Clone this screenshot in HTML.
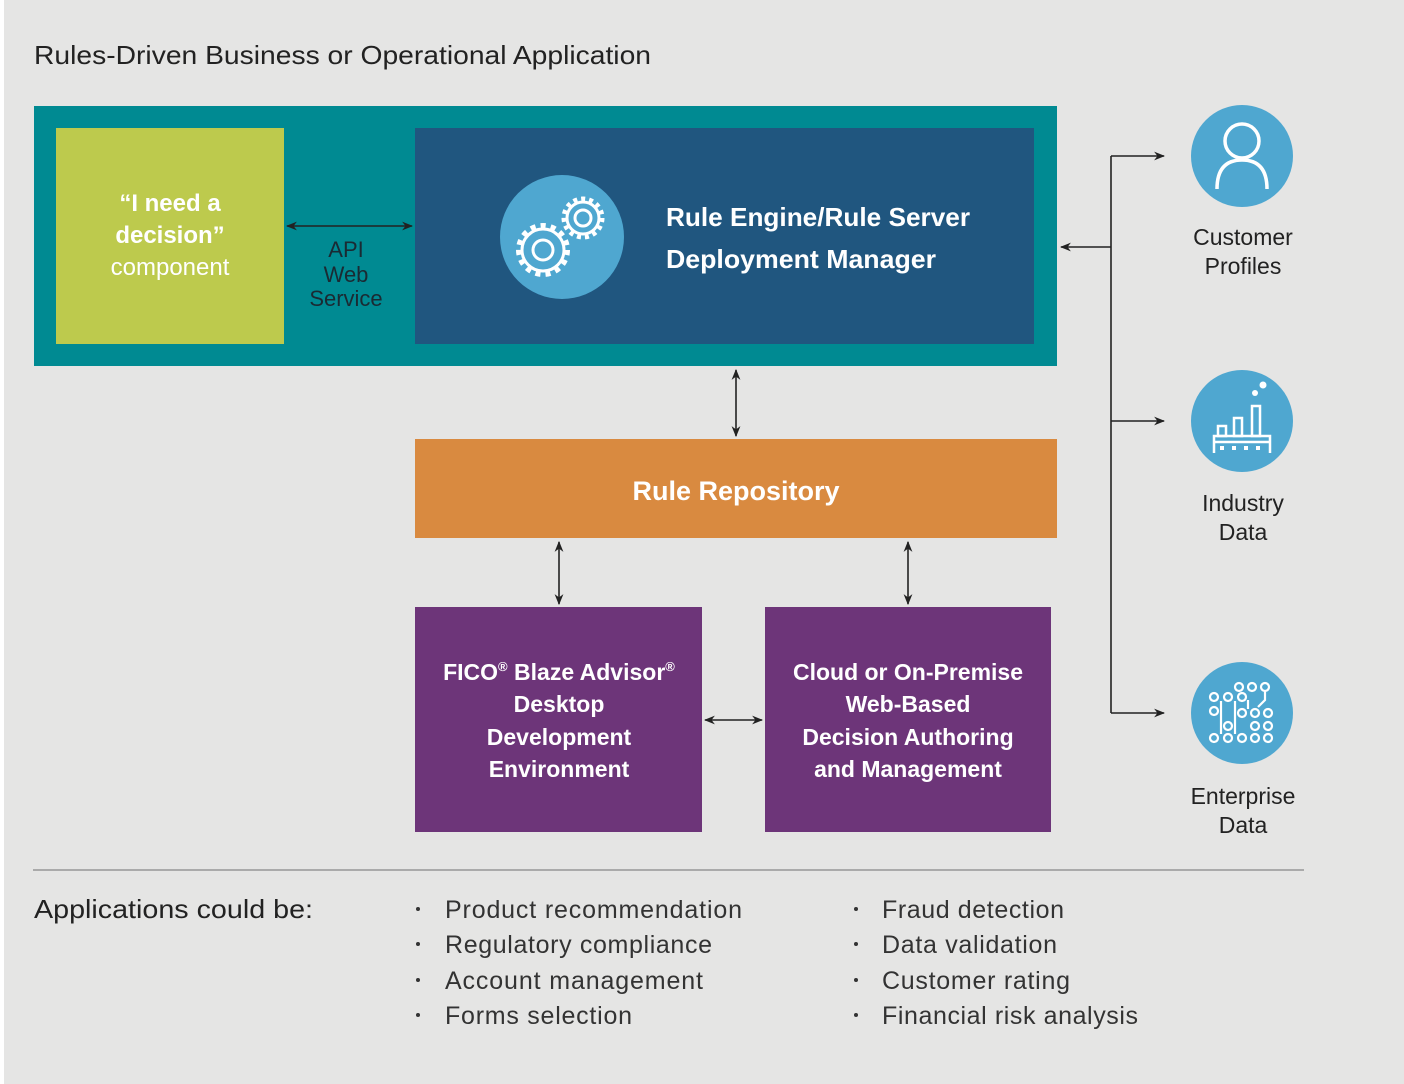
<!DOCTYPE html>
<html><head><meta charset="utf-8"><style>
html,body{margin:0;padding:0;background:#fff;}
svg{display:block;font-family:"Liberation Sans",Arial,sans-serif;}
</style></head><body>
<svg width="1404" height="1084" viewBox="0 0 1404 1084" xmlns="http://www.w3.org/2000/svg">
<defs>
<marker id="a" viewBox="0 0 10 10" refX="9" refY="5" markerWidth="11" markerHeight="11" orient="auto-start-reverse" markerUnits="userSpaceOnUse"><path d="M0,1 L10,5 L0,9 L3,5 z" fill="#222"/></marker>
</defs>
<rect x="4" y="0" width="1400" height="1084" fill="#e5e5e4"/>
<text x="34" y="64" font-size="26" fill="#222" textLength="617" lengthAdjust="spacingAndGlyphs">Rules-Driven Business or Operational Application</text>
<rect x="34" y="106" width="1023" height="260" fill="#008a92"/>
<rect x="56" y="128" width="228" height="216" fill="#bdca4d"/>
<g fill="#fff" font-size="24" font-weight="bold" text-anchor="middle">
<text x="170" y="211">“I need a</text><text x="170" y="243">decision”</text><text x="170" y="275" font-weight="normal">component</text></g>
<rect x="415" y="128" width="619" height="216" fill="#20567f"/>
<circle cx="562" cy="237" r="62" fill="#4fa7d0"/>
<g fill="none" stroke="#fff">
<circle cx="543" cy="250" r="10" stroke-width="3"/>
<circle cx="543" cy="250" r="21" stroke-width="3"/>
<circle cx="543" cy="250" r="24" stroke-width="6" stroke-dasharray="5 5.05"/>
<circle cx="583" cy="218" r="8" stroke-width="3"/>
<circle cx="583" cy="218" r="16" stroke-width="3"/>
<circle cx="583" cy="218" r="19" stroke-width="5" stroke-dasharray="4 3.96"/>
</g>
<g fill="#fff" font-size="26" font-weight="bold">
<text x="666" y="226" textLength="304" lengthAdjust="spacingAndGlyphs">Rule Engine/Rule Server</text><text x="666" y="268" textLength="270" lengthAdjust="spacingAndGlyphs">Deployment Manager</text></g>
<g fill="#1a2a33" font-size="22" text-anchor="middle">
<text x="346" y="257">API</text><text x="346" y="282">Web</text><text x="346" y="306">Service</text></g>
<g stroke="#222" stroke-width="1.6" fill="none" marker-start="url(#a)" marker-end="url(#a)">
<line x1="287" y1="226" x2="412" y2="226"/>
<line x1="736" y1="370" x2="736" y2="436"/>
<line x1="559" y1="542" x2="559" y2="604"/>
<line x1="908" y1="542" x2="908" y2="604"/>
<line x1="705" y1="720" x2="762" y2="720"/>
</g>
<rect x="415" y="439" width="642" height="99" fill="#d98a40"/>
<text x="736" y="500" fill="#fff" font-size="27" font-weight="bold" text-anchor="middle">Rule Repository</text>
<rect x="415" y="607" width="287" height="225" fill="#6d3579"/>
<rect x="765" y="607" width="286" height="225" fill="#6d3579"/>
<g fill="#fff" font-size="23" font-weight="bold" text-anchor="middle">
<text x="559" y="680">FICO<tspan font-size="13" dy="-9">®</tspan><tspan dy="9"> Blaze Advisor</tspan><tspan font-size="13" dy="-9">®</tspan></text>
<text x="559" y="712">Desktop</text><text x="559" y="745">Development</text><text x="559" y="777">Environment</text>
<text x="908" y="680">Cloud or On-Premise</text><text x="908" y="712">Web-Based</text><text x="908" y="745">Decision Authoring</text><text x="908" y="777">and Management</text></g>
<g stroke="#222" stroke-width="1.6" fill="none">
<line x1="1111" y1="156" x2="1111" y2="713"/>
<line x1="1111" y1="156" x2="1164" y2="156" marker-end="url(#a)"/>
<line x1="1111" y1="421" x2="1164" y2="421" marker-end="url(#a)"/>
<line x1="1111" y1="713" x2="1164" y2="713" marker-end="url(#a)"/>
<line x1="1111" y1="247" x2="1061" y2="247" marker-end="url(#a)"/>
</g>
<circle cx="1242" cy="156" r="51" fill="#4fa7d0"/>
<circle cx="1242" cy="421" r="51" fill="#4fa7d0"/>
<circle cx="1242" cy="713" r="51" fill="#4fa7d0"/>
<g fill="none" stroke="#fff" stroke-width="3.5">
<circle cx="1242" cy="141" r="17"/>
<path d="M1217,189 Q1217,160 1242,160 Q1267,160 1267,189"/>
</g>
<g fill="none" stroke="#fff" stroke-width="2.5">
<path d="M1214,453 V436 H1270 V453 M1214,442 H1270"/>
<rect x="1218" y="426" width="8" height="10"/>
<rect x="1234" y="418" width="8" height="18"/>
<rect x="1252" y="406" width="8" height="30"/>
</g>
<g fill="#fff"><circle cx="1255" cy="393" r="3"/><circle cx="1263" cy="385" r="3.5"/>
<rect x="1220" y="446" width="4" height="4"/><rect x="1232" y="446" width="4" height="4"/><rect x="1244" y="446" width="4" height="4"/><rect x="1256" y="446" width="4" height="4"/></g>
<g fill="none" stroke="#fff" stroke-width="2.2">
<circle cx="1239" cy="687" r="4"/><circle cx="1252" cy="687" r="4"/><circle cx="1265" cy="687" r="4"/>
<circle cx="1214" cy="697" r="4"/><circle cx="1228" cy="697" r="4"/><circle cx="1242" cy="697" r="4"/>
<circle cx="1214" cy="711" r="4"/><circle cx="1242" cy="713" r="4"/><circle cx="1255" cy="713" r="4"/><circle cx="1268" cy="713" r="4"/>
<circle cx="1228" cy="726" r="4"/><circle cx="1255" cy="726" r="4"/><circle cx="1268" cy="726" r="4"/>
<circle cx="1214" cy="738" r="4"/><circle cx="1228" cy="738" r="4"/><circle cx="1242" cy="738" r="4"/><circle cx="1255" cy="738" r="4"/><circle cx="1268" cy="738" r="4"/>
<path d="M1221,734 V701 M1235,734 V701 M1248,709 V700 M1265,691 V700 L1258,707"/>
</g>
<g fill="#222" font-size="23" text-anchor="middle">
<text x="1243" y="245">Customer</text><text x="1243" y="274">Profiles</text>
<text x="1243" y="511">Industry</text><text x="1243" y="540">Data</text>
<text x="1243" y="804">Enterprise</text><text x="1243" y="833">Data</text></g>
<line x1="33" y1="870" x2="1304" y2="870" stroke="#aaa" stroke-width="2"/>
<text x="34" y="918" font-size="26" fill="#222" textLength="279" lengthAdjust="spacingAndGlyphs">Applications could be:</text>
<g fill="#333"><circle cx="418" cy="909" r="2"/><circle cx="418" cy="944" r="2"/><circle cx="418" cy="980" r="2"/><circle cx="418" cy="1015" r="2"/>
<circle cx="856" cy="909" r="2"/><circle cx="856" cy="944" r="2"/><circle cx="856" cy="980" r="2"/><circle cx="856" cy="1015" r="2"/></g>
<g font-size="25" fill="#333" lengthAdjust="spacingAndGlyphs">
<text x="445" y="918" textLength="297">Product recommendation</text>
<text x="445" y="953" textLength="267">Regulatory compliance</text>
<text x="445" y="989" textLength="258">Account management</text>
<text x="445" y="1024" textLength="187">Forms selection</text>
<text x="882" y="918" textLength="182">Fraud detection</text>
<text x="882" y="953" textLength="175">Data validation</text>
<text x="882" y="989" textLength="188">Customer rating</text>
<text x="882" y="1024" textLength="256">Financial risk analysis</text>
</g>
</svg>
</body></html>
